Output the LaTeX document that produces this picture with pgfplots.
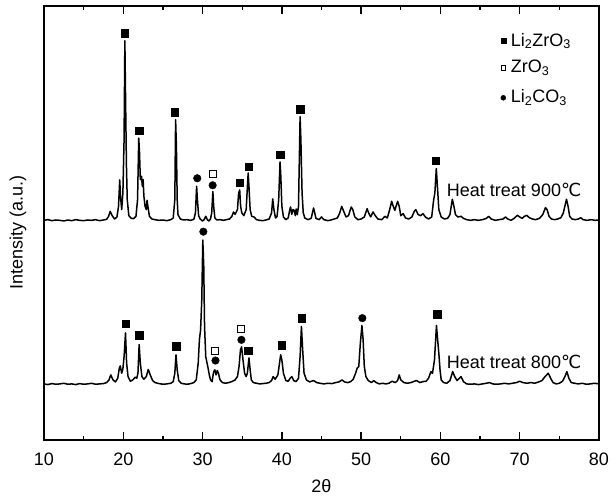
\documentclass[border=0pt]{standalone}
\usepackage{fontspec}
\setmainfont{Liberation Sans}
\newfontfamily\dejavu{DejaVu Sans}
\usepackage{pgfplots}
\pgfplotsset{compat=1.18}
\begin{document}%
\fontsize{18bp}{21.6bp}\selectfont%
\begin{tikzpicture}
\begin{axis}[
  width=555bp, height=434bp, scale only axis,
  xmin=10, xmax=80, ymin=0, ymax=1300,
  xtick={10,20,...,80}, minor x tick num=1,
  ytick=\empty,
  tick align=inside,
  major tick length=8bp, minor tick length=4bp,
  every tick/.style={black, line width=1.4bp},
  axis line style={line width=2bp},
  /pgf/number format/assume math mode=true,
  xticklabel style={yshift=-7bp},
  xlabel={2θ},
  xlabel style={at={(axis description cs:0.5,0)}, anchor=center, yshift=-46bp},
  ylabel={Intensity (a.u.)},
  ylabel style={at={(axis description cs:0,0.479)}, anchor=center, yshift=26bp},
  clip=false,
]
\coordinate (o) at (rel axis cs:0,0);
% 900 C pattern
\addplot[black, line width=1.5bp, line join=round] coordinates {
(10.0,658)(10.5,660)(11,657)(11.5,659)(12,658)(12.5,656)(13,659)(13.5,657)(14,660)(14.5,658)
(15,657)(15.5,659)(16,658)(16.5,660)(17,657)(17.5,659)(17.9,661)(18.15,670)(18.35,685)(18.6,672)
(18.9,662)(19.2,668)(19.4,700)(19.55,779)(19.65,730)(19.8,690)(19.95,740)(20.1,900)(20.2,1196)(20.3,1000)
(20.4,820)(20.5,720)(20.7,672)(21.0,664)(21.3,663)(21.6,670)(21.8,720)(21.95,904)(22.05,860)(22.15,780)
(22.3,790)(22.4,760)(22.5,780)(22.6,730)(22.75,700)(22.9,690)(23.0,718)(23.1,700)(23.3,670)(23.6,662)
(24,660)(24.5,658)(25,659)(25.5,657)(26,660)(26.3,665)(26.5,720)(26.6,959)(26.7,880)(26.8,720)
(26.9,675)(27.2,662)(27.6,659)(28,660)(28.5,658)(28.9,661)(29.1,680)(29.25,760)(29.35,720)(29.5,672)
(29.7,662)(30.0,656)(30.2,660)(30.4,670)(30.6,660)(30.8,656)(31.0,662)(31.15,680)(31.3,744)(31.4,700)
(31.55,665)(31.8,659)(32.2,660)(32.6,658)(33.0,660)(33.4,662)(33.7,670)(33.9,683)(34.1,676)(34.4,690)
(34.55,740)(34.68,749)(34.8,700)(34.95,680)(35.2,672)(35.5,690)(35.75,800)(35.85,760)(36.0,690)(36.2,670)
(36.5,668)(36.8,660)(37.2,658)(37.6,657)(38.0,659)(38.4,662)(38.7,680)(38.85,722)(39.0,690)(39.2,665)
(39.4,670)(39.6,720)(39.77,833)(39.87,790)(40.0,700)(40.2,668)(40.5,660)(40.8,665)(41.0,690)(41.1,698)
(41.25,676)(41.4,690)(41.55,688)(41.7,672)(41.8,692)(41.95,675)(42.1,700)(42.3,968)(42.4,900)(42.55,740)
(42.7,680)(42.9,665)(43.3,660)(43.7,664)(44.0,695)(44.15,680)(44.3,664)(44.7,660)(45.0,668)(45.3,660)
(45.8,657)(46.2,659)(46.6,662)(47.0,665)(47.3,680)(47.55,700)(47.8,685)(48.1,668)(48.4,672)(48.75,698)
(48.95,690)(49.2,668)(49.6,660)(50.0,662)(50.4,668)(50.75,693)(50.95,680)(51.2,668)(51.5,683)(51.7,675)
(52.1,662)(52.6,660)(53.0,670)(53.3,665)(53.6,690)(53.85,715)(54.05,700)(54.25,688)(54.6,715)(54.8,700)
(55.0,672)(55.3,678)(55.6,665)(56.0,662)(56.4,668)(56.7,685)(56.9,690)(57.2,675)(57.5,672)(57.8,678)
(58.1,668)(58.5,662)(58.9,668)(59.15,720)(59.3,740)(59.48,813)(59.62,760)(59.8,690)(60.1,668)(60.5,662)
(60.9,664)(61.2,675)(61.5,721)(61.7,700)(61.9,675)(62.2,668)(62.6,670)(62.9,664)(63.3,660)(63.8,658)
(64.3,660)(64.8,658)(65.3,660)(65.8,664)(66.1,670)(66.4,662)(66.9,658)(67.4,660)(67.9,662)(68.2,668)
(68.5,662)(68.9,658)(69.3,664)(69.7,673)(70.0,668)(70.3,664)(70.6,670)(70.9,673)(71.2,666)(71.6,662)
(72.0,660)(72.5,664)(72.9,675)(73.25,696)(73.45,690)(73.7,670)(74.0,662)(74.4,660)(74.8,662)(75.2,666)
(75.5,680)(75.9,721)(76.1,700)(76.3,670)(76.6,662)(77.0,660)(77.4,662)(77.7,666)(78.0,660)(78.5,658)
(79,660)(79.5,658)(80,659)};
% 800 C pattern
\addplot[black, line width=1.5bp, line join=round] coordinates {
(10.0,168)(10.5,166)(11,169)(11.5,167)(12,168)(12.5,170)(13,167)(13.5,168)(14,166)(14.5,169)
(15,167)(15.5,168)(16,170)(16.5,167)(17,168)(17.5,169)(17.9,172)(18.2,180)(18.42,195)(18.7,180)
(19.0,174)(19.3,185)(19.5,215)(19.62,222)(19.8,200)(19.95,213)(20.1,250)(20.28,321)(20.42,230)(20.6,190)
(20.9,176)(21.2,180)(21.5,188)(21.7,185)(21.85,200)(22.0,286)(22.15,230)(22.35,190)(22.6,182)(22.9,190)
(23.15,211)(23.4,195)(23.7,178)(24.0,172)(24.5,169)(25,167)(25.5,168)(26.0,170)(26.3,175)(26.5,200)
(26.65,255)(26.8,210)(27.0,178)(27.3,170)(27.7,168)(28.1,167)(28.5,169)(28.9,172)(29.2,180)(29.45,230)
(29.6,300)(29.75,330)(29.9,420)(30.03,599)(30.15,520)(30.25,340)(30.4,250)(30.55,232)(30.7,215)(30.85,195)
(31.0,180)(31.2,175)(31.4,205)(31.55,210)(31.7,195)(31.85,208)(32.0,200)(32.2,180)(32.5,172)(32.9,170)
(33.3,172)(33.7,175)(34.1,180)(34.4,190)(34.6,220)(34.78,270)(34.92,279)(35.1,240)(35.3,200)(35.5,190)
(35.65,200)(35.85,246)(36.0,210)(36.15,180)(36.4,172)(36.8,170)(37.2,168)(37.6,169)(38.0,170)(38.4,172)
(38.7,178)(38.9,190)(39.15,182)(39.5,195)(39.85,255)(40.0,240)(40.2,200)(40.5,178)(40.8,176)(41.05,185)
(41.25,190)(41.5,178)(41.8,175)(42.1,185)(42.3,250)(42.47,340)(42.6,280)(42.8,200)(43.1,180)(43.5,174)
(44.0,178)(44.4,172)(44.8,170)(45.3,168)(45.8,170)(46.3,169)(46.8,172)(47.2,174)(47.6,180)(47.9,174)
(48.3,172)(48.7,175)(49.0,182)(49.3,200)(49.5,215)(49.7,220)(49.9,290)(50.1,343)(50.25,300)(50.4,220)
(50.6,190)(50.9,178)(51.3,172)(51.6,178)(51.9,172)(52.3,168)(52.7,170)(53.1,168)(53.5,170)(53.9,176)
(54.3,172)(54.6,178)(54.8,195)(55.0,180)(55.4,172)(55.8,170)(56.3,172)(56.7,176)(57.0,178)(57.4,172)
(57.8,175)(58.2,176)(58.5,185)(58.8,205)(59.0,200)(59.25,240)(59.5,343)(59.65,300)(59.8,260)(59.95,210)
(60.1,180)(60.4,172)(60.8,170)(61.2,178)(61.55,205)(61.8,190)(62.1,178)(62.4,185)(62.6,190)(62.9,175)
(63.3,168)(63.8,167)(64.3,168)(64.8,166)(65.3,168)(65.8,170)(66.2,172)(66.6,168)(67.1,167)(67.6,168)
(68.1,170)(68.6,168)(69.1,170)(69.6,172)(70.0,176)(70.4,172)(70.9,170)(71.4,172)(71.9,170)(72.4,174)
(72.8,178)(73.2,190)(73.6,200)(73.9,185)(74.2,172)(74.6,168)(75.0,170)(75.4,176)(75.7,190)(75.95,205)
(76.2,185)(76.5,172)(76.9,170)(77.4,168)(77.9,170)(78.4,167)(78.9,168)(79.4,170)(80,168)};
% phase markers: Li2ZrO3 (filled squares)
\addplot[only marks, mark=square*, mark size=3.7bp, black] coordinates {
(20.21,1218)(22.02,927)(26.52,982)(34.68,771)(35.82,819)(39.77,854)(42.33,991)(59.44,837)
(20.33,348)(22.0,314)(26.65,281)(35.73,268)(39.97,284)(42.5,365)(59.6,377)};
% ZrO3 (open squares)
\addplot[only marks, mark=square, mark size=3.5bp, black, line width=1bp, mark options={fill=white}] coordinates {
(31.27,796)(31.6,268)(34.89,332)};
% Li2CO3 (circles)
\addplot[only marks, mark=*, mark size=3.8bp, black] coordinates {
(29.33,784)(31.27,763)(30.1,624)(31.63,238)(34.9,300)(50.15,365)};
% legend
\addplot[only marks, mark=square*, mark size=2.4bp, black] coordinates {(67.93,1195)};
\addplot[only marks, mark=square, mark size=2.3bp, black, line width=0.8bp] coordinates {(67.93,1114)};
\addplot[only marks, mark=*, mark size=2.5bp, black] coordinates {(67.93,1025)};
\node[anchor=west, inner sep=0pt] at (axis cs:68.86,1195) {Li\textsubscript{2}ZrO\textsubscript{3}};
\node[anchor=west, inner sep=0pt] at (axis cs:68.86,1114) {ZrO\textsubscript{3}};
\node[anchor=west, inner sep=0pt] at (axis cs:68.86,1025) {Li\textsubscript{2}CO\textsubscript{3}};
\node[anchor=west, inner sep=0pt] at (axis cs:60.8,749) {Heat treat 900{\dejavu ℃}};
\node[anchor=west, inner sep=0pt] at (axis cs:60.8,234) {Heat treat 800{\dejavu ℃}};
\end{axis}
\pgfresetboundingbox
\path (o) ++(-44bp,-61bp) rectangle ++(611bp,501bp);
\end{tikzpicture}%
\end{document}
